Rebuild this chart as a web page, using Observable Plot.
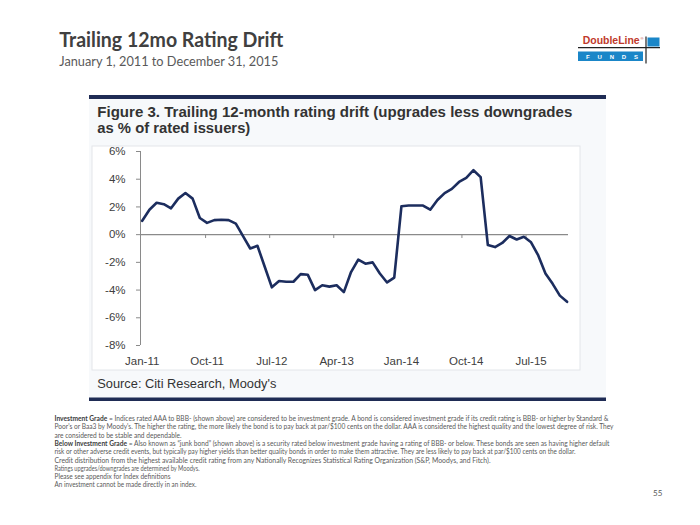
<!DOCTYPE html>
<html><head><meta charset="utf-8">
<script src="https://cdn.jsdelivr.net/npm/d3@7"></script>
<script src="https://cdn.jsdelivr.net/npm/@observablehq/plot@0.6"></script>
<style>
html,body{margin:0;padding:0;background:#fff}
#page{position:relative;width:700px;height:525px;overflow:hidden}
#deco{position:absolute;left:0;top:0}
#chart{position:absolute;left:0;top:0}
</style></head><body>
<div id="page"><svg id="deco" width="700" height="525"></svg><div id="chart"></div></div>
<script>
// Data: monthly trailing 12-month rating drift, Jan-2011 .. Dec-2015 (%)
const months = d3.utcMonths(new Date(Date.UTC(2011,0,1)), new Date(Date.UTC(2016,0,1)));
const drift = [1.0,1.8,2.3,2.2,1.9,2.6,3.0,2.6,1.2,0.85,1.05,1.07,1.05,0.8,-0.1,-1.0,-0.8,-2.3,-3.8,-3.35,
               -3.4,-3.4,-2.85,-2.9,-4.0,-3.65,-3.75,-3.65,-4.15,-2.7,-1.8,-2.1,-2.0,-2.8,-3.45,-3.1,2.05,2.1,2.1,2.1,
               1.8,2.5,3.0,3.3,3.8,4.1,4.65,4.15,-0.75,-0.9,-0.6,-0.1,-0.35,-0.15,-0.55,-1.5,-2.8,-3.55,-4.4,-4.85];
const xTickIndex = [0,9,18,27,36,45,54];
const xTickLabels = ["Jan-11","Oct-11","Jul-12","Apr-13","Jan-14","Oct-14","Jul-15"];
const zeroTickIndex = [8.8,17.7,26.6,35.5,44.4,53.3];
const yTicks = [6,4,2,0,-2,-4,-6,-8];

const titleText = "Trailing 12mo Rating Drift";
const subtitleText = "January 1, 2011 to December 31, 2015";
const figTitle1 = "Figure 3. Trailing 12-month rating drift (upgrades less downgrades";
const figTitle2 = "as % of rated issuers)";
const sourceText = "Source: Citi Research, Moody's";
const footnotes = [
  ["Investment Grade", " = Indices rated AAA to BBB- (shown above) are considered to be investment grade.  A bond is considered investment grade if its credit rating is BBB- or higher by Standard &", 554],
  ["", "Poor's or Baa3 by Moody's. The higher the rating, the more likely the bond is to pay back at par/$100 cents on the dollar. AAA is considered the highest quality and  the lowest degree of risk. They", 559],
  ["", "are considered to be stable and dependable.", 127],
  ["Below Investment Grade", " = Also known as \u201cjunk bond\u201d (shown above) is a security rated below investment grade having a rating of BBB- or below. These bonds are seen as having higher default", 555],
  ["", "risk or other adverse credit events, but typically pay higher yields than better quality bonds in order to make them attractive. They are less likely to pay back at par/$100 cents on the dollar.", 521],
  ["", "Credit distribution from the highest available credit rating from any Nationally Recognizes Statistical Rating Organization (S&P, Moodys, and Fitch).", 436],
  ["", "Ratings upgrades/downgrades are determined by Moodys.", 145],
  ["", "Please see appendix for Index definitions", 116],
  ["", "An investment cannot be made directly in an index.", 142]
];
const pageNumber = "55";

const data = drift.map((v, i) => ({i, month: months[i], v}));

// ---------- page decoration ----------
const deco = d3.select("#deco");
deco.append("rect").attr("x",89).attr("y",99).attr("width",517).attr("height",299).attr("fill","#f7f9fb");
deco.append("rect").attr("x",92).attr("y",146).attr("width",488).attr("height",224).attr("fill","#fff").attr("stroke","#e3e6ea");
deco.append("rect").attr("x",89).attr("y",95).attr("width",517).attr("height",4).attr("fill","#1f2c55");
deco.append("rect").attr("x",89).attr("y",397.5).attr("width",517).attr("height",3.5).attr("fill","#1f2c55");

const F = "'Liberation Sans', Arial, sans-serif";
const C = "Lato, 'Open Sans', sans-serif";
function txt(x,y,s,opt){
  const t = deco.append("text").attr("x",x).attr("y",y).text(s)
    .attr("font-family",opt.f||F).attr("font-size",opt.s).attr("fill",opt.c||"#333")
    .attr("font-weight",opt.w||"normal");
  if(opt.L){t.attr("textLength",opt.L).attr("lengthAdjust","spacingAndGlyphs");}
  if(opt.a){t.attr("text-anchor",opt.a);}
  return t;
}
txt(59.3,46.7,titleText,{f:C,s:20,w:"bold",c:"#404040",L:224});
txt(59.3,65.7,subtitleText,{f:C,s:14,c:"#595959",L:219});

// logo
txt(582.7,44.3,"DoubleLine",{s:10.5,w:"bold",c:"#c0392b",L:57});
txt(640.5,39.5,"\u00ae",{s:4,c:"#c0392b"});
deco.append("line").attr("x1",578).attr("x2",660).attr("y1",47.6).attr("y2",47.6).attr("stroke","#222").attr("stroke-width",1.2);
deco.append("rect").attr("x",578).attr("y",51.5).attr("width",65).attr("height",9.5).attr("fill","#1a86c8");
txt(586,59,"FUNDS",{s:6,c:"#fff",L:52,w:"bold"}).attr("lengthAdjust","spacing");
deco.append("line").attr("x1",646).attr("x2",646).attr("y1",36.5).attr("y2",63.5).attr("stroke","#222").attr("stroke-width",1.2);
deco.append("rect").attr("x",647.5).attr("y",37.5).attr("width",12).attr("height",9).attr("fill","#1a86c8");

// figure title / source
txt(97.3,116.7,figTitle1,{s:15.3,w:"bold",c:"#333",L:475});
txt(97.3,132.5,figTitle2,{s:15.3,w:"bold",c:"#333",L:153});
txt(97.3,388.3,sourceText,{s:12,c:"#333",L:179});

// footnotes
footnotes.forEach((fn, k) => {
  const t = deco.append("text").attr("x",54.5).attr("y",421 + k*8.3)
    .attr("font-family",C).attr("font-size",7).attr("fill","#595959");
  if (fn[0]) t.append("tspan").attr("font-weight","bold").attr("fill","#404040").text(fn[0]);
  t.append("tspan").text(fn[1]);
  t.attr("textLength",fn[2]).attr("lengthAdjust","spacingAndGlyphs");
});
txt(653,495.5,pageNumber,{f:C,s:8,c:"#595959"});

// ---------- chart ----------
const chart = Plot.plot({
  width: 700, height: 400,
  marginLeft: 140, marginRight: 132, marginTop: 151, marginBottom: 55,
  style: {background: "transparent", fontFamily: F, fontSize: "11.5px", color: "#333"},
  x: {domain: [-0.24, 59.2], axis: null},
  y: {domain: [-8, 6], axis: null},
  marks: [
    Plot.ruleY([0], {stroke: "#8a8a8a", strokeWidth: 1.2}),
    Plot.ruleX(zeroTickIndex, {y1: 0, y2: -0.28, stroke: "#8a8a8a"}),
    Plot.ruleX([-0.24], {y1: -8, y2: 6, stroke: "#8a8a8a"}),
    Plot.axisY({ticks: yTicks, tickFormat: d => d + "%", tickSize: 4, tickPadding: 11, stroke: "#8a8a8a", fill: "#404040", label: null, anchor: "left"}),
    Plot.axisX({ticks: xTickIndex, tickFormat: d => xTickLabels[xTickIndex.indexOf(d)], tickSize: 0, tickPadding: 11, fill: "#404040", label: null, anchor: "bottom"}),
    Plot.lineY(data, {x: "i", y: "v", stroke: "#1c2d5e", strokeWidth: 2.6, strokeLinejoin: "round", strokeLinecap: "round"})
  ]
});
document.getElementById("chart").appendChild(chart);
</script>
</body></html>
